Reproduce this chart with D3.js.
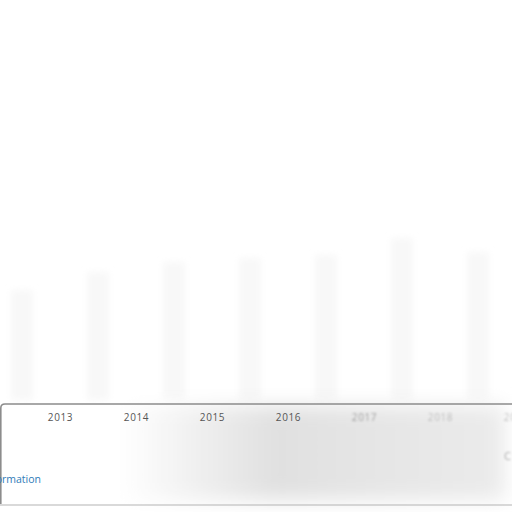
<!DOCTYPE html>
<html>
<head>
<meta charset="utf-8">
<script src="https://cdn.jsdelivr.net/npm/d3@7"></script>
<style>
  body { margin: 0; background: #fff; }
  svg { display: block; }
</style>
</head>
<body>
<div id="chart"></div>
<script>
const barYears = [2012, 2013, 2014, 2015, 2016, 2017, 2018];
const barValues = [110, 128, 138, 142, 145, 162, 148];
const tickYears = [2013, 2014, 2015, 2016, 2017, 2018, 2019];
const tickOpacity = [1, 1, 1, 1, 0.5, 0.3, 0.35];
const linkText = "More information";

const width = 512;
const height = 512;
const margin = ({top: 220, right: 0, bottom: 112, left: 0});

const x = d3.scaleLinear()
  .domain([2013, 2019])
  .range([60, 516]);
const y = d3.scaleLinear()
  .domain([0, 180])
  .range([height - margin.bottom, margin.top]);

const svg = d3.select("#chart").append("svg")
  .attr("width", width)
  .attr("height", height)
  .attr("viewBox", [0, 0, width, height]);

const defs = svg.append("defs");
defs.append("filter").attr("id", "soft")
    .attr("x", "-50%").attr("y", "-10%").attr("width", "200%").attr("height", "120%")
  .append("feGaussianBlur").attr("stdDeviation", 3.5);
defs.append("filter").attr("id", "haze")
    .attr("x", "-20%").attr("y", "-20%").attr("width", "140%").attr("height", "140%")
  .append("feGaussianBlur").attr("stdDeviation", 10);
defs.append("filter").attr("id", "smear")
  .append("feGaussianBlur").attr("stdDeviation", 0.9);

const grad = defs.append("linearGradient").attr("id", "shade");
grad.append("stop").attr("offset", "0%").attr("stop-color", "#fff");
grad.append("stop").attr("offset", "40%").attr("stop-color", "#e0e0e0");
grad.append("stop").attr("offset", "70%").attr("stop-color", "#e6e6e6");
grad.append("stop").attr("offset", "100%").attr("stop-color", "#ebebeb");

// faint bars
svg.append("g")
    .attr("filter", "url(#soft)")
  .selectAll("rect")
  .data(barYears)
  .join("rect")
    .attr("x", d => x(d + 0.5) - 11)
    .attr("width", 22)
    .attr("y", (d, i) => y(barValues[i]))
    .attr("height", (d, i) => y(0) - y(barValues[i]))
    .attr("fill", "#f8f8f8");

// shaded panel under the axis
const base = y(0) + 4;
svg.append("rect")
    .attr("x", 120)
    .attr("y", base + 2)
    .attr("width", 385)
    .attr("height", 94)
    .attr("fill", "url(#shade)")
    .attr("filter", "url(#haze)");

// panel frame
svg.append("path")
    .attr("d", `M0.8,${base + 100} L0.8,${base + 4} Q0.8,${base} 5,${base} L512,${base}`)
    .attr("fill", "none")
    .attr("stroke", "#8c8c8c")
    .attr("stroke-width", 1.6);
svg.append("line")
    .attr("x1", 0).attr("x2", 512)
    .attr("y1", base + 101).attr("y2", base + 101)
    .attr("stroke", "#b4b4b4")
    .attr("stroke-width", 1.2);
svg.append("line")
    .attr("x1", 501).attr("x2", 501)
    .attr("y1", base + 20).attr("y2", base + 95)
    .attr("stroke", "#d8d8d8")
    .attr("stroke-width", 1)
    .attr("filter", "url(#smear)");

// axis
const gx = svg.append("g")
  .attr("transform", `translate(0,${base})`)
  .call(d3.axisBottom(x).tickValues(tickYears).tickFormat(d3.format("d")).tickSize(0).tickPadding(10))
  .call(g => g.select(".domain").remove());
gx.selectAll("text")
    .attr("font-family", "'Open Sans', sans-serif")
    .attr("font-size", 10)
    .attr("letter-spacing", 0.6)
    .attr("fill", "#555")
    .attr("opacity", (d, i) => tickOpacity[i])
    .attr("filter", (d, i) => i >= 4 ? "url(#smear)" : null);

svg.append("text")
    .attr("x", 41)
    .attr("y", base + 79)
    .attr("text-anchor", "end")
    .attr("font-family", "'Open Sans', sans-serif")
    .attr("font-size", 10.5)
    .attr("fill", "#2f7bb8")
    .text(linkText);

svg.append("text")
    .attr("x", 504)
    .attr("y", base + 56)
    .attr("font-family", "'Open Sans', sans-serif")
    .attr("font-size", 11)
    .attr("fill", "#aaa")
    .attr("filter", "url(#smear)")
    .text("C");
</script>
</body>
</html>
